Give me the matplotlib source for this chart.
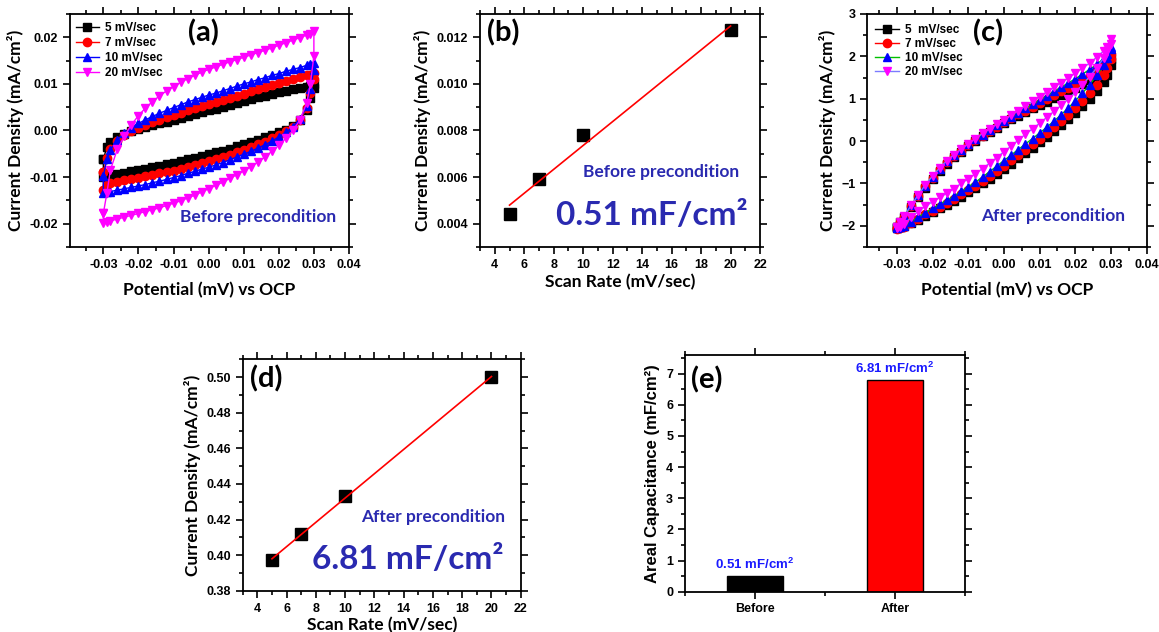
import matplotlib.pyplot as plt
import numpy as np
from matplotlib.ticker import MultipleLocator

plt.rcParams['font.family'] = ['Liberation Sans', 'DejaVu Sans']
plt.rcParams['font.weight'] = 'bold'
plt.rcParams['axes.linewidth'] = 1.3
plt.rcParams['mathtext.fontset'] = 'custom'
plt.rcParams['mathtext.bf'] = 'Liberation Sans:bold'
plt.rcParams['mathtext.rm'] = 'Liberation Sans:bold'

LABEL_FONT = ['Lato', 'DejaVu Sans']
NOTE_BLUE = '#2a2ab0'

# potential sweep points (V vs OCP) shared by every CV loop
potential = [-0.030, -0.029, -0.028, -0.026, -0.024, -0.022, -0.020, -0.018,
             -0.016, -0.014, -0.012, -0.010, -0.008, -0.006, -0.004, -0.002,
             0.000, 0.002, 0.004, 0.006, 0.008, 0.010, 0.012, 0.014, 0.016,
             0.018, 0.020, 0.022, 0.024, 0.026, 0.028, 0.029, 0.030]
sweep_labels = ['5 mV/sec', '7 mV/sec', '10 mV/sec', '20 mV/sec']
sweep_labels_after = ['5  mV/sec', '7 mV/sec', '10 mV/sec', '20 mV/sec']

# before precondition, mA/cm2 -- forward (anodic) and reverse branches
pre_fwd_5 = [-0.0062, -0.0035, -0.0025, -0.0015, -0.0008, -0.0002, 0.0003, 0.0007,
             0.0011, 0.0015, 0.0019, 0.0023, 0.0027, 0.0031, 0.0035, 0.0039,
             0.0043, 0.0047, 0.0051, 0.0055, 0.0059, 0.0063, 0.0067, 0.0071, 0.0075,
             0.0079, 0.0082, 0.0085, 0.0088, 0.0091, 0.0094, 0.0096, 0.0099]
pre_rev_5 = [-0.0100, -0.0099, -0.0097, -0.0094, -0.0091, -0.0088, -0.0085, -0.0082,
             -0.0079, -0.0076, -0.0072, -0.0069, -0.0066, -0.0062, -0.0058, -0.0055,
             -0.0051, -0.0047, -0.0043, -0.0039, -0.0034, -0.0030, -0.0025, -0.0020, -0.0015,
             -0.0010, -0.0004, 0.0002, 0.0010, 0.0022, 0.0045, 0.0070, 0.0092]
pre_fwd_7 = [-0.0090, -0.0058, -0.0040, -0.0022, -0.0010, -0.0001, 0.0006, 0.0012,
             0.0018, 0.0023, 0.0028, 0.0033, 0.0038, 0.0043, 0.0048, 0.0053,
             0.0057, 0.0061, 0.0066, 0.0070, 0.0075, 0.0079, 0.0084, 0.0088, 0.0093,
             0.0097, 0.0102, 0.0106, 0.0110, 0.0114, 0.0118, 0.0120, 0.0123]
pre_rev_7 = [-0.0128, -0.0117, -0.0113, -0.0110, -0.0107, -0.0104, -0.0101, -0.0098,
             -0.0095, -0.0092, -0.0089, -0.0086, -0.0082, -0.0078, -0.0074, -0.0070,
             -0.0066, -0.0062, -0.0057, -0.0052, -0.0047, -0.0042, -0.0036, -0.0030, -0.0024,
             -0.0017, -0.0010, -0.0002, 0.0008, 0.0022, 0.0048, 0.0080, 0.0110]
pre_fwd_10 = [-0.0098, -0.0062, -0.0042, -0.0020, -0.0005, 0.0006, 0.0015, 0.0023,
              0.0030, 0.0037, 0.0043, 0.0049, 0.0055, 0.0061, 0.0066, 0.0071,
              0.0076, 0.0080, 0.0085, 0.0090, 0.0095, 0.0100, 0.0104, 0.0109, 0.0113,
              0.0118, 0.0122, 0.0127, 0.0131, 0.0135, 0.0140, 0.0142, 0.0145]
pre_rev_10 = [-0.0135, -0.0133, -0.0131, -0.0128, -0.0125, -0.0122, -0.0119, -0.0116,
              -0.0112, -0.0109, -0.0105, -0.0101, -0.0097, -0.0092, -0.0088, -0.0083,
              -0.0079, -0.0074, -0.0069, -0.0063, -0.0057, -0.0051, -0.0045, -0.0038, -0.0031,
              -0.0023, -0.0014, -0.0004, 0.0008, 0.0024, 0.0052, 0.0090, 0.0130]
pre_fwd_20 = [-0.0178, -0.0135, -0.0085, -0.0040, -0.0012, 0.0012, 0.0032, 0.0048,
              0.0062, 0.0074, 0.0085, 0.0094, 0.0103, 0.0111, 0.0118, 0.0125,
              0.0131, 0.0136, 0.0142, 0.0147, 0.0152, 0.0157, 0.0162, 0.0167, 0.0172,
              0.0177, 0.0183, 0.0188, 0.0194, 0.0199, 0.0205, 0.0208, 0.0213]
pre_rev_20 = [-0.0198, -0.0196, -0.0194, -0.0190, -0.0186, -0.0182, -0.0178, -0.0174,
              -0.0170, -0.0166, -0.0161, -0.0156, -0.0151, -0.0145, -0.0139, -0.0132,
              -0.0125, -0.0118, -0.0111, -0.0103, -0.0095, -0.0087, -0.0078, -0.0068, -0.0057,
              -0.0045, -0.0032, -0.0017, 0.0000, 0.0022, 0.0060, 0.0100, 0.0160]

# after precondition, mA/cm2
post_fwd_5 = [-2.03, -1.91, -1.79, -1.55, -1.32, -1.10, -0.89, -0.70,
              -0.53, -0.38, -0.25, -0.12, 0.00, 0.11, 0.22, 0.32,
              0.42, 0.51, 0.60, 0.69, 0.77, 0.85, 0.93, 1.01, 1.09,
              1.17, 1.25, 1.34, 1.43, 1.54, 1.68, 1.78, 1.93]
post_rev_5 = [-2.05, -2.04, -2.01, -1.94, -1.86, -1.77, -1.68, -1.59,
              -1.50, -1.41, -1.31, -1.21, -1.11, -1.00, -0.89, -0.77,
              -0.65, -0.53, -0.41, -0.29, -0.16, -0.03, 0.10, 0.23, 0.37,
              0.51, 0.66, 0.82, 0.99, 1.18, 1.40, 1.55, 1.80]
post_fwd_7 = [-2.05, -1.92, -1.79, -1.54, -1.30, -1.07, -0.86, -0.67,
              -0.50, -0.36, -0.23, -0.10, 0.02, 0.13, 0.24, 0.34,
              0.44, 0.54, 0.63, 0.72, 0.81, 0.90, 0.99, 1.08, 1.17,
              1.26, 1.35, 1.45, 1.55, 1.67, 1.81, 1.91, 2.06]
post_rev_7 = [-2.08, -2.06, -2.02, -1.93, -1.83, -1.73, -1.64, -1.55,
              -1.46, -1.36, -1.26, -1.16, -1.05, -0.94, -0.82, -0.70,
              -0.58, -0.45, -0.33, -0.20, -0.07, 0.06, 0.19, 0.33, 0.47,
              0.62, 0.78, 0.95, 1.13, 1.33, 1.56, 1.72, 1.94]
post_fwd_10 = [-2.03, -1.90, -1.77, -1.52, -1.28, -1.05, -0.84, -0.65,
               -0.48, -0.34, -0.21, -0.08, 0.04, 0.15, 0.26, 0.37,
               0.47, 0.57, 0.67, 0.77, 0.87, 0.97, 1.07, 1.17, 1.27,
               1.37, 1.47, 1.58, 1.69, 1.81, 1.95, 2.05, 2.22]
post_rev_10 = [-2.06, -2.04, -2.00, -1.90, -1.79, -1.69, -1.59, -1.49,
               -1.40, -1.30, -1.19, -1.08, -0.97, -0.85, -0.72, -0.59,
               -0.46, -0.33, -0.20, -0.07, 0.06, 0.19, 0.33, 0.47, 0.62,
               0.78, 0.95, 1.13, 1.33, 1.55, 1.80, 1.97, 2.18]
post_fwd_20 = [-2.04, -1.90, -1.77, -1.52, -1.27, -1.03, -0.82, -0.63,
               -0.46, -0.32, -0.19, -0.06, 0.06, 0.18, 0.29, 0.40,
               0.50, 0.61, 0.72, 0.83, 0.94, 1.05, 1.16, 1.27, 1.38,
               1.49, 1.60, 1.72, 1.84, 1.98, 2.13, 2.22, 2.40]
post_rev_20 = [-2.06, -2.02, -1.96, -1.80, -1.66, -1.54, -1.43, -1.33,
               -1.23, -1.12, -1.00, -0.89, -0.77, -0.65, -0.52, -0.39,
               -0.25, -0.12, 0.02, 0.16, 0.29, 0.42, 0.56, 0.70, 0.84,
               0.99, 1.15, 1.33, 1.52, 1.73, 1.97, 2.12, 2.30]

# current density vs scan rate
scan_rate = [5, 7, 10, 20]
pre_current = [0.00442, 0.00590, 0.00782, 0.01232]
post_current = [0.397, 0.412, 0.433, 0.500]

# areal capacitance from the slopes
cap_labels = ['Before', 'After']
cap_values = [0.51, 6.81]

pre_loops = [(pre_fwd_5, pre_rev_5), (pre_fwd_7, pre_rev_7),
             (pre_fwd_10, pre_rev_10), (pre_fwd_20, pre_rev_20)]
post_loops = [(post_fwd_5, post_rev_5), (post_fwd_7, post_rev_7),
              (post_fwd_10, post_rev_10), (post_fwd_20, post_rev_20)]
marker_kinds = ['s', 'o', '^', 'v']
marker_colors = ['black', 'red', 'blue', 'magenta']
post_line_colors = ['black', 'red', '#00c000', '#7b7bff']


def cv_loop(fwd, rev):
    x = potential + potential[::-1] + [potential[0]]
    y = fwd + rev[::-1] + [fwd[0]]
    return x, y


def style_axes(ax):
    ax.tick_params(which='both', direction='out', top=True, right=True,
                   width=1.2, labelsize=9)
    ax.tick_params(which='major', length=5)
    ax.tick_params(which='minor', length=3)
    for lab in ax.get_xticklabels() + ax.get_yticklabels():
        lab.set_fontweight('bold')


def draw_cv(ax, loops, line_colors, labels, xmin):
    for (fwd, rev), mk, mc, lc, lab in zip(loops, marker_kinds, marker_colors,
                                           line_colors, labels):
        x, y = cv_loop(fwd, rev)
        ax.plot(x, y, color=lc, lw=1.0, marker=mk, ms=6, mfc=mc, mec=mc,
                label=lab)
    ax.set_xlim(xmin, 0.04)
    ax.xaxis.set_minor_locator(MultipleLocator(0.005))
    ax.set_xticks([-0.03, -0.02, -0.01, 0.0, 0.01, 0.02, 0.03, 0.04])
    ax.set_xticklabels(['-0.03', '-0.02', '-0.01', '0.00', '0.01', '0.02',
                        '0.03', '0.04'])
    ax.set_xlabel('Potential (mV) vs OCP', family=LABEL_FONT, fontsize=12.5,
                  fontweight='bold', labelpad=8)
    ax.set_ylabel('Current Density (mA/cm²)', family=LABEL_FONT, fontsize=12.5,
                  fontweight='bold')
    style_axes(ax)


def draw_rate(ax, current):
    ax.plot(scan_rate, current, ls='none', marker='s', ms=8, color='black')
    slope, icpt = np.polyfit(scan_rate, current, 1)
    xs = np.array([scan_rate[0], scan_rate[-1]])
    ax.plot(xs, slope * xs + icpt, color='red', lw=1.2)
    ax.set_xlim(3, 22)
    ax.xaxis.set_minor_locator(MultipleLocator(1))
    ax.set_xticks(range(4, 23, 2))
    ax.set_xlabel('Scan Rate (mV/sec)', family=LABEL_FONT, fontsize=12.5,
                  fontweight='bold', labelpad=2)
    ax.set_ylabel('Current Density (mA/cm²)', family=LABEL_FONT, fontsize=12.5,
                  fontweight='bold')
    style_axes(ax)


def panel_tag(ax, tag, x, y):
    ax.text(x, y, tag, transform=ax.transAxes, ha='center', va='center',
            family=LABEL_FONT, fontsize=21, fontweight='bold')


fig = plt.figure(figsize=(11.59, 6.32), dpi=100)

# (a) CV before preconditioning
ax_a = fig.add_axes([0.0604, 0.6092, 0.2407, 0.3687])
draw_cv(ax_a, pre_loops, marker_colors, sweep_labels, -0.0395)
ax_a.set_ylim(-0.025, 0.025)
ax_a.yaxis.set_minor_locator(MultipleLocator(0.005))
ax_a.set_yticks([-0.02, -0.01, 0.0, 0.01, 0.02])
ax_a.set_yticklabels(['-0.02', '-0.01', '0.00', '0.01', '0.02'])
style_axes(ax_a)
ax_a.legend(loc='upper left', bbox_to_anchor=(0.02, 0.965), frameon=False,
            borderpad=0, borderaxespad=0, labelspacing=0.25,
            handlelength=2.0, handletextpad=0.5, prop={'weight': 'bold', 'size': 8.5})
panel_tag(ax_a, '(a)', 0.477, 0.918)
ax_a.text(0.674, 0.13, 'Before precondition', transform=ax_a.transAxes,
          ha='center', va='center', family=LABEL_FONT, fontsize=12.5,
          fontweight='bold', color=NOTE_BLUE)

# (b) current vs scan rate, before
ax_b = fig.add_axes([0.4142, 0.6092, 0.2416, 0.3687])
draw_rate(ax_b, pre_current)
ax_b.set_ylim(0.003, 0.013)
ax_b.yaxis.set_minor_locator(MultipleLocator(0.001))
ax_b.set_yticks([0.004, 0.006, 0.008, 0.010, 0.012])
ax_b.set_yticklabels(['0.004', '0.006', '0.008', '0.010', '0.012'])
style_axes(ax_b)
panel_tag(ax_b, '(b)', 0.083, 0.918)
ax_b.text(0.646, 0.323, 'Before precondition', transform=ax_b.transAxes,
          ha='center', va='center', family=LABEL_FONT, fontsize=12.5,
          fontweight='bold', color=NOTE_BLUE)
ax_b.text(0.614, 0.137, f'{cap_values[0]:.2f} mF/cm²', transform=ax_b.transAxes,
          ha='center', va='center', family=LABEL_FONT, fontsize=24,
          fontweight='bold', color=NOTE_BLUE)

# (c) CV after preconditioning
ax_c = fig.add_axes([0.7483, 0.6092, 0.2411, 0.3687])
draw_cv(ax_c, post_loops, post_line_colors, sweep_labels_after, -0.0383)
ax_c.set_ylim(-2.5, 3)
ax_c.yaxis.set_major_locator(MultipleLocator(1))
ax_c.yaxis.set_minor_locator(MultipleLocator(0.5))
style_axes(ax_c)
ax_c.legend(loc='upper left', bbox_to_anchor=(0.028, 0.955), frameon=False,
            borderpad=0, borderaxespad=0, labelspacing=0.15,
            handlelength=2.0, handletextpad=0.5, prop={'weight': 'bold', 'size': 8.5})
panel_tag(ax_c, '(c)', 0.433, 0.918)
ax_c.text(0.665, 0.133, 'After precondition', transform=ax_c.transAxes,
          ha='center', va='center', family=LABEL_FONT, fontsize=12.5,
          fontweight='bold', color=NOTE_BLUE)

# (d) current vs scan rate, after
ax_d = fig.add_axes([0.2094, 0.0653, 0.2399, 0.3661])
draw_rate(ax_d, post_current)
ax_d.set_ylim(0.38, 0.51)
ax_d.yaxis.set_minor_locator(MultipleLocator(0.01))
ax_d.set_yticks([0.38, 0.40, 0.42, 0.44, 0.46, 0.48, 0.50])
ax_d.set_yticklabels(['0.38', '0.40', '0.42', '0.44', '0.46', '0.48', '0.50'])
style_axes(ax_d)
panel_tag(ax_d, '(d)', 0.086, 0.914)
ax_d.text(0.685, 0.318, 'After precondition', transform=ax_d.transAxes,
          ha='center', va='center', family=LABEL_FONT, fontsize=12.5,
          fontweight='bold', color=NOTE_BLUE)
ax_d.text(0.595, 0.133, f'{cap_values[1]:.2f} mF/cm²', transform=ax_d.transAxes,
          ha='center', va='center', family=LABEL_FONT, fontsize=24,
          fontweight='bold', color=NOTE_BLUE)

# (e) areal capacitance bars
ax_e = fig.add_axes([0.591, 0.0638, 0.2416, 0.3745])
pos = [1, 2]
ax_e.bar(pos, cap_values, width=0.4, color=['black', 'red'], edgecolor='black',
         linewidth=1.0)
for p, v in zip(pos, cap_values):
    ax_e.text(p, v + 0.12, f'{v:.2f} mF/cm' + r'$^\mathbf{2}$', ha='center',
              va='bottom', fontsize=9.5, fontweight='bold', color='#1a1aff')
ax_e.set_xlim(0.5, 2.5)
ax_e.set_ylim(0, 7.6)
ax_e.set_xticks(pos)
ax_e.set_xticklabels(cap_labels)
ax_e.xaxis.set_minor_locator(MultipleLocator(0.5))
ax_e.yaxis.set_major_locator(MultipleLocator(1))
ax_e.yaxis.set_minor_locator(MultipleLocator(0.5))
ax_e.set_ylabel('Areal Capacitance (mF/cm²)', fontsize=12, fontweight='bold')
style_axes(ax_e)
panel_tag(ax_e, '(e)', 0.077, 0.894)

fig.savefig('out.png', dpi=100)
